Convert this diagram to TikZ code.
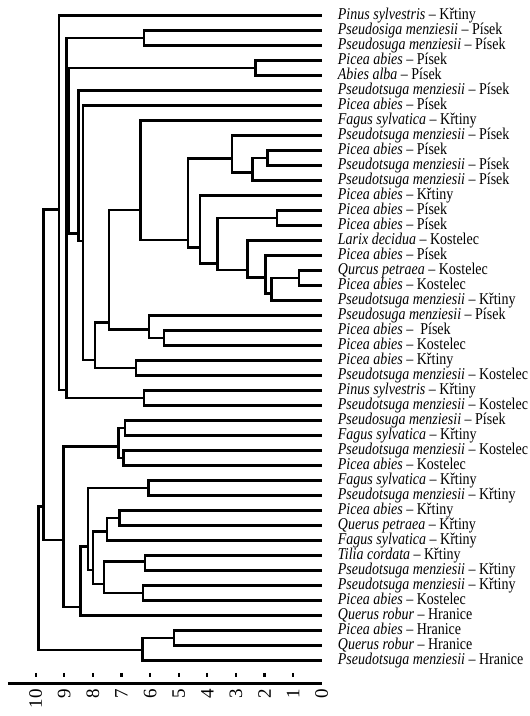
\documentclass[tikz,border=0pt]{standalone}
\usepackage{fontspec}
\setmainfont{Liberation Serif}
\newcommand{\sploc}[2]{\scalebox{1}[1.18]{\textit{#1} -- #2}}
\tikzset{
  link/.style={line width=2.6pt},
  leaf/.style={anchor=west, inner xsep=16pt, inner ysep=0pt, text height=10.5pt, text depth=3pt, font=\fontsize{14}{15}\selectfont},
  tick/.style={line width=2.2pt},
  num/.style={rotate=90, anchor=east, inner sep=0pt, font=\fontsize{19}{19}\selectfont}
}
\begin{document}
\begin{tikzpicture}[x=-28.6pt, y=-15pt]
\useasboundingbox (11.248,-0.02) rectangle (-7.248,47.71);
\node [leaf] (l1) at (0,1) {\sploc{Pinus sylvestris}{Křtiny}};
\node [leaf] (l2) at (0,2) {\sploc{Pseudosiga menziesii}{Písek}};
\node [leaf] (l3) at (0,3) {\sploc{Pseudosuga menziesii}{Písek}};
\node [leaf] (l4) at (0,4) {\sploc{Picea abies}{Písek}};
\node [leaf] (l5) at (0,5) {\sploc{Abies alba}{Písek}};
\node [leaf] (l6) at (0,6) {\sploc{Pseudotsuga menziesii}{Písek}};
\node [leaf] (l7) at (0,7) {\sploc{Picea abies}{Písek}};
\node [leaf] (l8) at (0,8) {\sploc{Fagus sylvatica}{Křtiny}};
\node [leaf] (l9) at (0,9) {\sploc{Pseudotsuga menziesii}{Písek}};
\node [leaf] (l10) at (0,10) {\sploc{Picea abies}{Písek}};
\node [leaf] (l11) at (0,11) {\sploc{Pseudotsuga menziesii}{Písek}};
\node [leaf] (l12) at (0,12) {\sploc{Pseudotsuga menziesii}{Písek}};
\node [leaf] (l13) at (0,13) {\sploc{Picea abies}{Křtiny}};
\node [leaf] (l14) at (0,14) {\sploc{Picea abies}{Písek}};
\node [leaf] (l15) at (0,15) {\sploc{Picea abies}{Písek}};
\node [leaf] (l16) at (0,16) {\sploc{Larix decidua}{Kostelec}};
\node [leaf] (l17) at (0,17) {\sploc{Picea abies}{Písek}};
\node [leaf] (l18) at (0,18) {\sploc{Qurcus petraea}{Kostelec}};
\node [leaf] (l19) at (0,19) {\sploc{Picea abies}{Kostelec}};
\node [leaf] (l20) at (0,20) {\sploc{Pseudotsuga menziesii}{Křtiny}};
\node [leaf] (l21) at (0,21) {\sploc{Pseudosuga menziesii}{Písek}};
\node [leaf] (l22) at (0,22) {\sploc{Picea abies}{\ Písek}};
\node [leaf] (l23) at (0,23) {\sploc{Picea abies}{Kostelec}};
\node [leaf] (l24) at (0,24) {\sploc{Picea abies}{Křtiny}};
\node [leaf] (l25) at (0,25) {\sploc{Pseudotsuga menziesii}{Kostelec}};
\node [leaf] (l26) at (0,26) {\sploc{Pinus sylvestris}{Křtiny}};
\node [leaf] (l27) at (0,27) {\sploc{Pseudotsuga menziesii}{Kostelec}};
\node [leaf] (l28) at (0,28) {\sploc{Pseudosuga menziesii}{Písek}};
\node [leaf] (l29) at (0,29) {\sploc{Fagus sylvatica}{Křtiny}};
\node [leaf] (l30) at (0,30) {\sploc{Pseudotsuga menziesii}{Kostelec}};
\node [leaf] (l31) at (0,31) {\sploc{Picea abies}{Kostelec}};
\node [leaf] (l32) at (0,32) {\sploc{Fagus sylvatica}{Křtiny}};
\node [leaf] (l33) at (0,33) {\sploc{Pseudotsuga menziesii}{Křtiny}};
\node [leaf] (l34) at (0,34) {\sploc{Picea abies}{Křtiny}};
\node [leaf] (l35) at (0,35) {\sploc{Querus petraea}{Křtiny}};
\node [leaf] (l36) at (0,36) {\sploc{Fagus sylvatica}{Křtiny}};
\node [leaf] (l37) at (0,37) {\sploc{Tilia cordata}{Křtiny}};
\node [leaf] (l38) at (0,38) {\sploc{Pseudotsuga menziesii}{Křtiny}};
\node [leaf] (l39) at (0,39) {\sploc{Pseudotsuga menziesii}{Křtiny}};
\node [leaf] (l40) at (0,40) {\sploc{Picea abies}{Kostelec}};
\node [leaf] (l41) at (0,41) {\sploc{Querus robur}{Hranice}};
\node [leaf] (l42) at (0,42) {\sploc{Picea abies}{Hranice}};
\node [leaf] (l43) at (0,43) {\sploc{Querus robur}{Hranice}};
\node [leaf] (l44) at (0,44) {\sploc{Pseudotsuga menziesii}{Hranice}};
\coordinate (s2-3) at (6.21,2.5);
\coordinate (s4-5) at (2.31,4.5);
\coordinate (s10-11) at (1.90,10.5);
\coordinate (s10-12) at (2.43,11.49);
\coordinate (s9-12) at (3.14,10.53);
\coordinate (s14-15) at (1.57,14.5);
\coordinate (s18-19) at (0.79,18.5);
\coordinate (s18-20) at (1.75,19.53);
\coordinate (s17-20) at (1.96,18.47);
\coordinate (s16-20) at (2.60,17.98);
\coordinate (s14-20) at (3.65,17.53);
\coordinate (s13-20) at (4.25,16.47);
\coordinate (s9-20) at (4.68,15.98);
\coordinate (s8-20) at (6.33,13.98);
\coordinate (s22-23) at (5.51,22.5);
\coordinate (s21-23) at (6.04,21.93);
\coordinate (s8-23) at (7.43,21.49);
\coordinate (s24-25) at (6.49,24.5);
\coordinate (s8-25) at (7.93,23.98);
\coordinate (s7-25) at (8.35,16.05);
\coordinate (s6-25) at (8.51,15.53);
\coordinate (s4-25) at (8.83,14.93);
\coordinate (s26-27) at (6.21,26.5);
\coordinate (s2-27) at (8.93,25.98);
\coordinate (s1-27) at (9.19,13.93);
\coordinate (s28-29) at (6.88,28.5);
\coordinate (s30-31) at (6.94,30.5);
\coordinate (s28-31) at (7.11,29.76);
\coordinate (s32-33) at (6.06,32.5);
\coordinate (s34-35) at (7.08,34.5);
\coordinate (s34-36) at (7.50,35.43);
\coordinate (s37-38) at (6.18,37.4);
\coordinate (s39-40) at (6.25,39.5);
\coordinate (s37-40) at (7.61,38.91);
\coordinate (s34-40) at (7.99,37.98);
\coordinate (s32-40) at (8.17,36.43);
\coordinate (s32-41) at (8.43,40.43);
\coordinate (s28-41) at (9.03,35.98);
\coordinate (s1-41) at (9.73,33.76);
\coordinate (s42-43) at (5.16,42.5);
\coordinate (s42-44) at (6.27,43.31);
\coordinate (s1-44) at (9.91,38.5);
\draw [link] (l2.west) -| (s2-3) |- (l3.west);
\draw [link] (l4.west) -| (s4-5) |- (l5.west);
\draw [link] (l10.west) -| (s10-11) |- (l11.west);
\draw [link] (s10-11) -| (s10-12) |- (l12.west);
\draw [link] (l9.west) -| (s9-12) |- (s10-12);
\draw [link] (l14.west) -| (s14-15) |- (l15.west);
\draw [link] (l18.west) -| (s18-19) |- (l19.west);
\draw [link] (s18-19) -| (s18-20) |- (l20.west);
\draw [link] (l17.west) -| (s17-20) |- (s18-20);
\draw [link] (l16.west) -| (s16-20) |- (s17-20);
\draw [link] (s14-15) -| (s14-20) |- (s16-20);
\draw [link] (l13.west) -| (s13-20) |- (s14-20);
\draw [link] (s9-12) -| (s9-20) |- (s13-20);
\draw [link] (l8.west) -| (s8-20) |- (s9-20);
\draw [link] (l22.west) -| (s22-23) |- (l23.west);
\draw [link] (l21.west) -| (s21-23) |- (s22-23);
\draw [link] (s8-20) -| (s8-23) |- (s21-23);
\draw [link] (l24.west) -| (s24-25) |- (l25.west);
\draw [link] (s8-23) -| (s8-25) |- (s24-25);
\draw [link] (l7.west) -| (s7-25) |- (s8-25);
\draw [link] (l6.west) -| (s6-25) |- (s7-25);
\draw [link] (s4-5) -| (s4-25) |- (s6-25);
\draw [link] (l26.west) -| (s26-27) |- (l27.west);
\draw [link] (s2-3) -| (s2-27) |- (s26-27);
\draw [link] (s4-25) -| (s2-27);
\draw [link] (l1.west) -| (s1-27) |- (s2-27);
\draw [link] (l28.west) -| (s28-29) |- (l29.west);
\draw [link] (l30.west) -| (s30-31) |- (l31.west);
\draw [link] (s28-29) -| (s28-31) |- (s30-31);
\draw [link] (l32.west) -| (s32-33) |- (l33.west);
\draw [link] (l34.west) -| (s34-35) |- (l35.west);
\draw [link] (s34-35) -| (s34-36) |- (l36.west);
\draw [link] (l37.west) -| (s37-38) |- (l38.west);
\draw [link] (l39.west) -| (s39-40) |- (l40.west);
\draw [link] (s37-38) -| (s37-40) |- (s39-40);
\draw [link] (s34-36) -| (s34-40) |- (s37-40);
\draw [link] (s32-33) -| (s32-40) |- (s34-40);
\draw [link] (s32-40) -| (s32-41) |- (l41.west);
\draw [link] (s28-31) -| (s28-41) |- (s32-41);
\draw [link] (s1-27) -| (s1-41) |- (s28-41);
\draw [link] (l42.west) -| (s42-43) |- (l43.west);
\draw [link] (s42-43) -| (s42-44) |- (l44.west);
\draw [link] (s1-41) -| (s1-44) |- (s42-44);
\draw [line width=2.8pt] (10.97,45.53) -- (0,45.53);
\foreach \d in {1,...,10} {\draw [tick] (\d,44.83) -- (\d,45.13);}
\foreach \d in {0,...,10} {\node [num] (t\d) at (\d,45.91) {\d};}
\end{tikzpicture}
\end{document}
